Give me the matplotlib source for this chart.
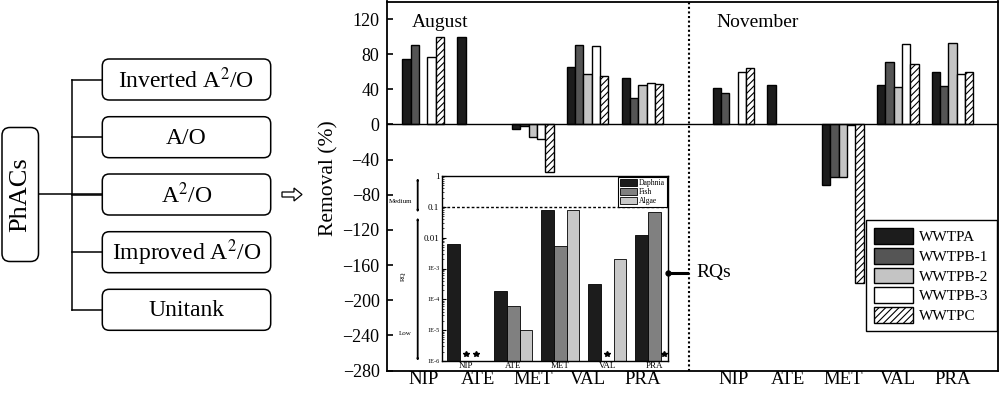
import numpy as np
import matplotlib
matplotlib.use('Agg')
import matplotlib.pyplot as plt
from matplotlib.patches import FancyBboxPatch, FancyArrow, FancyArrowPatch
from matplotlib.lines import Line2D

plt.rcParams['font.family'] = ['Liberation Serif', 'DejaVu Serif']
plt.rcParams['mathtext.fontset'] = 'stix'
plt.rcParams['hatch.linewidth'] = 0.8

nan = np.nan

# 약물 / 처리장
drugs = ['NIP', 'ATE', 'MET', 'VAL', 'PRA']
plants = ['WWTPA', 'WWTPB-1', 'WWTPB-2', 'WWTPB-3', 'WWTPC']
processes = ['Inverted A$^{2}$/O', 'A/O', 'A$^{2}$/O', 'Improved A$^{2}$/O', 'Unitank']

# 제거율 (%) - August
aug_wwtpa = [74, 100, -5.5, 66, 53]
aug_wwtpb1 = [90, nan, -1.5, 91, 30.5]
aug_wwtpb2 = [nan, nan, -14.5, 58, 44.5]
aug_wwtpb3 = [76.5, nan, -17, 89.5, 47]
aug_wwtpc = [100, nan, -54, 55, 46]

# 제거율 (%) - November
nov_wwtpa = [42, 45, -69, 45, 60]
nov_wwtpb1 = [36, nan, -60, 71, 43.5]
nov_wwtpb2 = [nan, nan, -60, 43, 92.5]
nov_wwtpb3 = [60, nan, -1, 91.5, 58]
nov_wwtpc = [64.5, nan, -180, 68.5, 60]

# 위해지수 RQ
rq_daphnia = [6.1e-3, 1.8e-4, 0.077, 3.2e-4, 0.0118]
rq_fish = [nan, 5.9e-5, 5.4e-3, nan, 0.068]
rq_algae = [nan, 1.0e-5, 0.077, 2.0e-3, nan]

plant_colors = ['#1c1c1c', '#555555', '#c4c4c4', 'white', 'white']
plant_hatch = [None, None, None, None, '/////']
rq_colors = ['#1c1c1c', '#808080', '#c8c8c8']

W, H = 1000, 393
fig = plt.figure(figsize=(W / 100, H / 100), dpi=100)

def fx(x):
    return x / W

def fy(y):
    return 1 - y / H

# ---- 왼쪽 공정 다이어그램 ----
dax = fig.add_axes([0, 0, 0.33, 1])
dax.set_xlim(0, 330)
dax.set_ylim(H, 0)
dax.axis('off')

lw_d = 1.1
dax.add_patch(FancyBboxPatch((2, 127.5), 36.5, 134, boxstyle='round,pad=0,rounding_size=8',
                             fc='white', ec='black', lw=lw_d))
dax.text(20, 194.5, 'PhACs', rotation=90, ha='center', va='center', fontsize=19)
box_y = [59, 116.7, 174, 231.7, 289.3]
box_h = 41
dax.plot([38.5, 102], [194.3, 194.3], color='black', lw=lw_d)
dax.plot([71.7, 71.7], [box_y[0] + box_h / 2, box_y[-1] + box_h / 2], color='black', lw=lw_d)
for yb, name in zip(box_y, processes):
    yc = yb + box_h / 2
    dax.plot([71.7, 102.3], [yc, yc], color='black', lw=lw_d)
    dax.add_patch(FancyBboxPatch((102.3, yb), 168.4, box_h, boxstyle='round,pad=0,rounding_size=7',
                                 fc='white', ec='black', lw=lw_d))
    dax.text(186.5, yc + 1, name, ha='center', va='center', fontsize=17)
dax.add_patch(FancyArrow(282, 194.5, 20, 0, width=5, head_width=13, head_length=8,
                         length_includes_head=True, fc='white', ec='black', lw=0.9))

# ---- 메인 제거율 차트 ----
ax = fig.add_axes([fx(386.5), fy(370.5), fx(998 - 386.5), (370.5 - 1.5) / H])
aug_x = np.arange(len(drugs))
nov_x = np.arange(len(drugs)) + 5.66
bw = 0.152
aug_series = [aug_wwtpa, aug_wwtpb1, aug_wwtpb2, aug_wwtpb3, aug_wwtpc]
nov_series = [nov_wwtpa, nov_wwtpb1, nov_wwtpb2, nov_wwtpb3, nov_wwtpc]
for i, label in enumerate(plants):
    off = (i - 2) * bw
    ax.bar(aug_x + off, aug_series[i], width=bw, color=plant_colors[i], hatch=plant_hatch[i],
           edgecolor='black', linewidth=1.0, label=label, zorder=2)
    ax.bar(nov_x + off, nov_series[i], width=bw, color=plant_colors[i], hatch=plant_hatch[i],
           edgecolor='black', linewidth=1.0, zorder=2)

ax.axhline(0, color='black', lw=1.0, zorder=3)
ax.axvline(4.85, color='black', lw=1.5, ls=(0, (1, 1.2)), zorder=1)
ax.set_xlim(-0.67, 10.49)
ax.set_ylim(-280, 140)
ax.set_yticks(np.arange(-280, 121, 40))
ax.set_xticks(np.concatenate([aug_x, nov_x]))
ax.set_xticklabels(drugs + drugs, fontsize=13.5)
ax.tick_params(axis='x', length=0, pad=0.5)
ax.tick_params(axis='y', direction='in', length=4, width=1.2, labelsize=13, pad=5)
for s in ax.spines.values():
    s.set_linewidth(1.3)
ax.text(0.042, 0.965, 'August', transform=ax.transAxes, fontsize=14, va='top', ha='left')
ax.text(0.540, 0.965, 'November', transform=ax.transAxes, fontsize=14, va='top', ha='left')
fig.text(fx(329), fy(178), 'Removal (%)', rotation=90, ha='center', va='center', fontsize=15.5)

leg = ax.legend(loc='upper left', bbox_to_anchor=(fx(866), fy(220)), bbox_transform=fig.transFigure,
                fontsize=11, handlelength=2.55, handleheight=1.2, labelspacing=0.24,
                handletextpad=0.4, borderpad=0.55, borderaxespad=0, fancybox=False,
                framealpha=1, edgecolor='black')
leg.get_frame().set_linewidth(1.0)

# ---- 삽입 RQ 차트 ----
iax = fig.add_axes([fx(442), fy(361), fx(668 - 442), (361 - 176) / H])
iax.set_yscale('log')
rq_x = np.arange(len(drugs))
ibw = 0.27
rq_series = [rq_daphnia, rq_fish, rq_algae]
for j, (vals, lab) in enumerate(zip(rq_series, ['Daphnia', 'Fish', 'Algae'])):
    v = np.array(vals, dtype=float)
    iax.bar(rq_x + (j - 1) * ibw, v - 1e-6, bottom=1e-6, width=ibw, color=rq_colors[j],
            edgecolor='black', linewidth=0.6, label=lab, zorder=2)
    miss = np.isnan(v)
    iax.plot(rq_x[miss] + (j - 1) * ibw * 0.75, np.full(miss.sum(), 1.7e-6), ls='none',
             marker='*', ms=4, color='black', zorder=3)
iax.axhline(0.1, color='black', lw=1.0, ls=(0, (2, 1.5)), zorder=1)
iax.set_xlim(-0.52, 4.29)
iax.set_ylim(1e-6, 1)
iax.set_yticks([1e-6, 1e-5, 1e-4, 1e-3, 1e-2, 1e-1, 1])
iax.set_yticklabels(['1E-6', '1E-5', '1E-4', '1E-3', '0.01', '0.1', '1'])
for t, fs in zip(iax.get_yticklabels(), [4.5, 4.5, 4.5, 4.5, 6.5, 6.5, 6.5]):
    t.set_fontsize(fs)
iax.tick_params(axis='y', which='major', direction='in', length=3, width=0.8, pad=2)
iax.tick_params(axis='y', which='minor', direction='in', length=1.5, width=0.5)
iax.set_xticks(rq_x)
iax.set_xticklabels(drugs, fontsize=6.5)
iax.tick_params(axis='x', length=0, pad=1)
for s in iax.spines.values():
    s.set_linewidth(1.0)
ileg = iax.legend(loc='upper right', fontsize=5.5, handlelength=2.2, handleheight=1.0,
                  labelspacing=0.15, handletextpad=0.3, borderpad=0.25, borderaxespad=0.15,
                  fancybox=False, framealpha=1, edgecolor='black')
ileg.get_frame().set_linewidth(0.8)

# RQ 범위 화살표
arrow_kw = dict(arrowstyle='<|-|>,head_length=0.7,head_width=0.22', color='black', lw=1.3,
                shrinkA=0, shrinkB=0)
fig.add_artist(FancyArrowPatch((fx(417.7), fy(177)), (fx(417.7), fy(213.5)),
                               transform=fig.transFigure, **arrow_kw))
fig.add_artist(FancyArrowPatch((fx(417.7), fy(216.5)), (fx(417.7), fy(362)),
                               transform=fig.transFigure, **arrow_kw))
fig.text(fx(400.7), fy(201.5), 'Medium', fontsize=5, ha='center', va='center')
fig.text(fx(403.3), fy(276.5), 'RQ', fontsize=5, ha='center', va='center', rotation=90)
fig.text(fx(405), fy(333.3), 'Low', fontsize=5, ha='center', va='center')

# RQs 표시선
fig.add_artist(Line2D([fx(668), fx(687)], [fy(273), fy(273)], transform=fig.transFigure,
                      color='black', lw=2.2))
fig.add_artist(Line2D([fx(668)], [fy(273)], transform=fig.transFigure, marker='o', ms=3.5,
                      color='black'))
fig.text(fx(696), fy(273), 'RQs', fontsize=14, ha='left', va='center')

fig.savefig('out.png', dpi=100)
